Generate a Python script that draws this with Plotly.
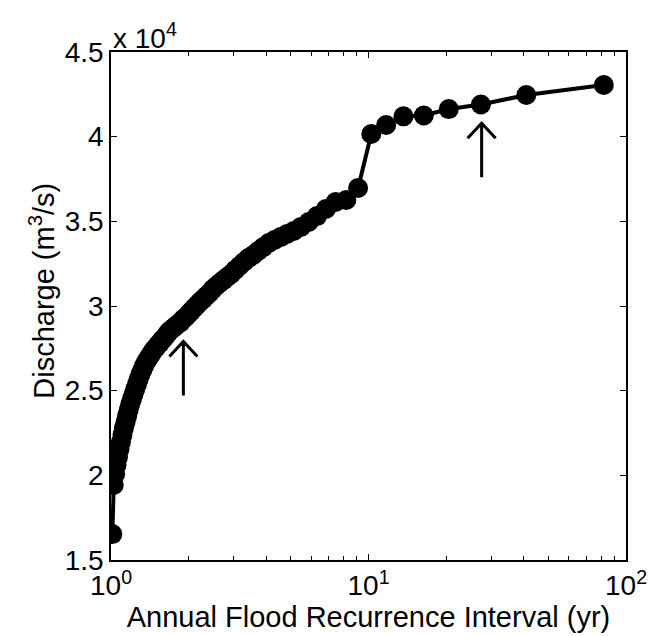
import plotly.graph_objects as go

# Annual flood series: recurrence interval (yr) and discharge (m^3/s)
recurrence_yr = [82.0, 41.0, 27.33, 20.5, 16.4, 13.67, 11.71, 10.25, 9.111, 8.2,
                 7.455, 6.833, 6.308, 5.857, 5.467, 5.125, 4.824, 4.556, 4.316, 4.1,
                 3.905, 3.727, 3.565, 3.417, 3.28, 3.154, 3.037, 2.929, 2.828, 2.733,
                 2.645, 2.563, 2.485, 2.412, 2.343, 2.278, 2.216, 2.158, 2.103, 2.05,
                 2.0, 1.952, 1.907, 1.864, 1.822, 1.783, 1.745, 1.708, 1.673, 1.64,
                 1.608, 1.577, 1.547, 1.519, 1.491, 1.464, 1.439, 1.414, 1.39, 1.367,
                 1.344, 1.323, 1.302, 1.281, 1.262, 1.242, 1.224, 1.206, 1.188, 1.171,
                 1.155, 1.139, 1.123, 1.108, 1.093, 1.079, 1.065, 1.051, 1.038, 1.025, 1.012]
discharge = [43050, 42460, 41900, 41630, 41250, 41200, 40690, 40160, 36970, 36260,
             36140, 35730, 35310, 34960, 34670, 34430, 34250, 34070, 33900, 33720,
             33480, 33250, 33010, 32830, 32600, 32360, 32130, 31890, 31710, 31530,
             31360, 31180, 31000, 30770, 30590, 30410, 30240, 30060, 29880, 29700,
             29530, 29350, 29230, 29050, 28940, 28820, 28700, 28580, 28460, 28290,
             28110, 27990, 27810, 27700, 27520, 27400, 27220, 27050, 26870, 26690,
             26460, 26220, 25980, 25690, 25390, 25100, 24800, 24510, 24210, 23860,
             23510, 23150, 22800, 22390, 21970, 21560, 21090, 20620, 20080, 19430, 16530]

y_tickvals = [15000, 20000, 25000, 30000, 35000, 40000, 45000]
y_ticktext = ["1.5", "2", "2.5", "3", "3.5", "4", "4.5"]
x_tickvals = [1, 10, 100]
x_ticktext = ["10<sup>0</sup>", "10<sup>1</sup>", "10<sup>2</sup>"]
x_minor = [2, 3, 4, 5, 6, 7, 8, 9, 20, 30, 40, 50, 60, 70, 80, 90]

# arrow tips (data coordinates)
arrow_x = [1.91, 27.5]
arrow_y = [27900, 40790]

FONT = "Liberation Sans, Arial, Helvetica, sans-serif"

fig = go.Figure()
fig.add_trace(go.Scatter(
    x=recurrence_yr, y=discharge, mode="lines+markers",
    line=dict(color="black", width=4),
    marker=dict(color="black", size=20, line=dict(width=0)),
    showlegend=False, hoverinfo="skip"))

shapes = []
for ax_, ay_ in zip(arrow_x, arrow_y):
    shapes.append(dict(
        type="path", xref="x", yref="y",
        xsizemode="pixel", ysizemode="pixel",
        xanchor=ax_, yanchor=ay_,
        path="M0,0 L0,-54 M-14,-15 L0,0 L14,-15",
        line=dict(color="black", width=3)))

fig.update_layout(
    width=661, height=636,
    margin=dict(l=103, r=43, t=44, b=84),
    paper_bgcolor="white", plot_bgcolor="white",
    font=dict(family=FONT, size=28, color="black"),
    shapes=shapes,
    xaxis=dict(
        type="log", range=[0, 2],
        tickvals=x_tickvals, ticktext=x_ticktext,
        ticks="inside", ticklen=6, tickwidth=1, tickcolor="black",
        minor=dict(tickvals=x_minor, ticks="inside", ticklen=4, tickwidth=1,
                   tickcolor="black", showgrid=False),
        showline=True, linecolor="black", linewidth=1.5, mirror="ticks",
        showgrid=False, zeroline=False,
        tickfont=dict(size=28),
        title=dict(text="Annual Flood Recurrence Interval (yr)",
                   font=dict(size=29), standoff=2)),
    yaxis=dict(
        range=[15000, 45000],
        tickvals=y_tickvals, ticktext=y_ticktext,
        ticks="inside", ticklen=6, tickwidth=1, tickcolor="black",
        showline=True, linecolor="black", linewidth=1.5, mirror="ticks",
        showgrid=False, zeroline=False,
        tickfont=dict(size=28)),
    annotations=[
        dict(text="x 10<sup>4</sup>", xref="paper", yref="paper",
             x=0, y=1, xanchor="left", yanchor="bottom", yshift=-4,
             showarrow=False, font=dict(size=28)),
        dict(text="Discharge (m<sup>3</sup>/s)", xref="paper", yref="paper",
             x=-0.134, y=0.53, xanchor="center", yanchor="middle",
             textangle=-90, showarrow=False, font=dict(size=29)),
    ],
)

fig.write_html("out.html")
